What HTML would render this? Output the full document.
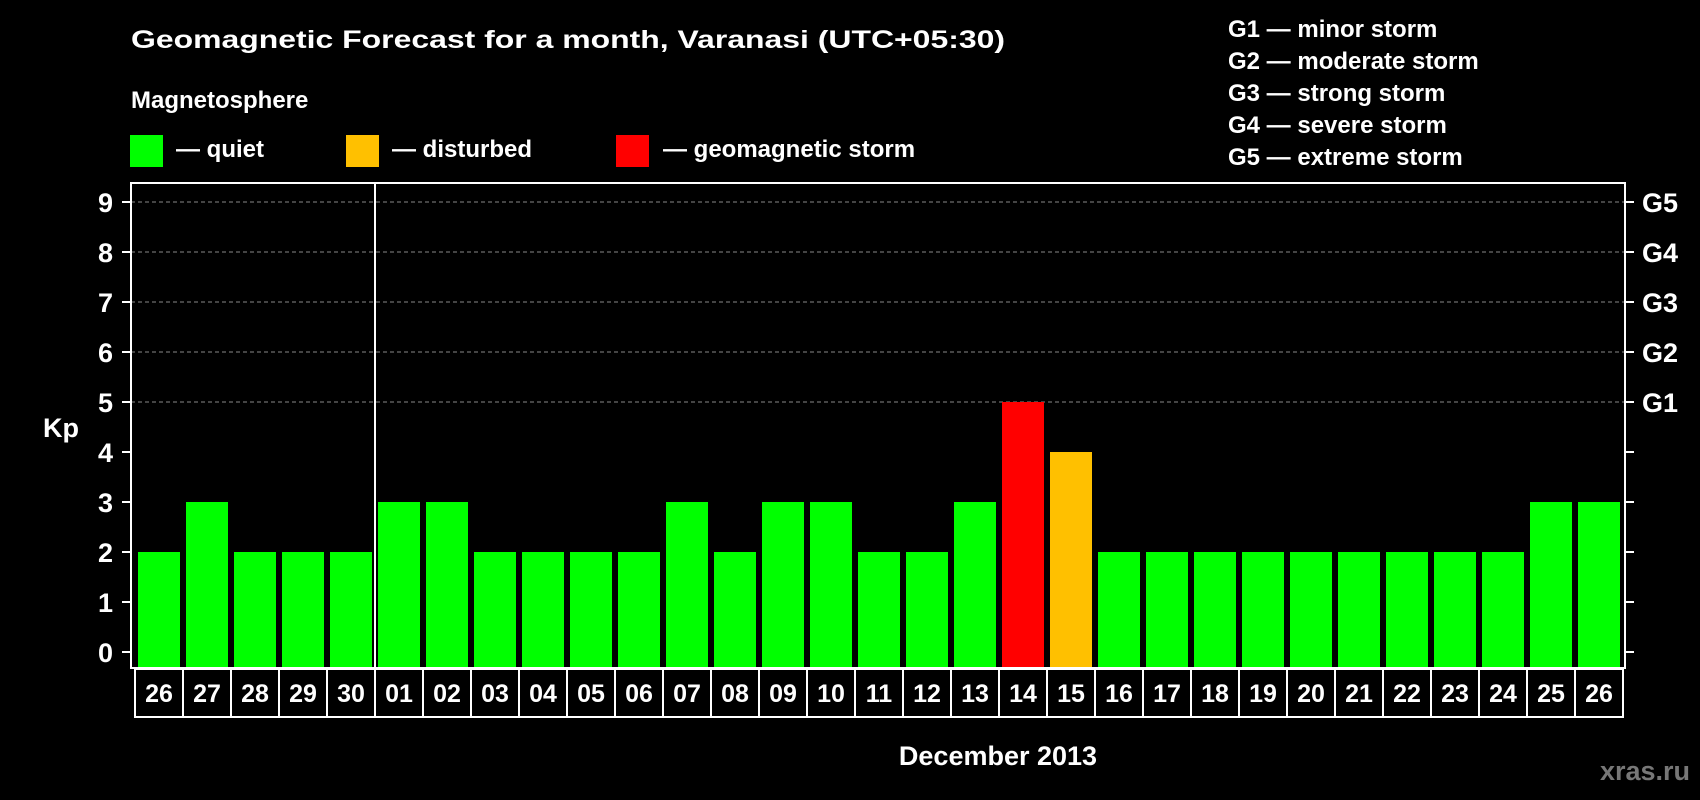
<!DOCTYPE html>
<html><head><meta charset="utf-8"><style>
html,body{margin:0;padding:0;background:#000;}
svg{display:block;font-family:"Liberation Sans",Arial,sans-serif;font-weight:bold;}
</style></head><body>
<svg id="chart" width="1700" height="800" viewBox="0 0 1700 800">
<rect x="0" y="0" width="1700" height="800" fill="#000"/>
<text x="131" y="48" fill="#fff" font-size="25" textLength="874" lengthAdjust="spacingAndGlyphs">Geomagnetic Forecast for a month, Varanasi (UTC+05:30)</text>
<text x="131" y="108" fill="#fff" font-size="24">Magnetosphere</text>
<g><rect x="130" y="135" width="33" height="32" fill="#00ff00"/><text x="176" y="157" fill="#fff" font-size="24">— quiet</text></g>
<g><rect x="346" y="135" width="33" height="32" fill="#ffc000"/><text x="392" y="157" fill="#fff" font-size="24">— disturbed</text></g>
<g><rect x="616" y="135" width="33" height="32" fill="#ff0000"/><text x="663" y="157" fill="#fff" font-size="24">— geomagnetic storm</text></g>
<g fill="#fff" font-size="24">
<text x="1228" y="37">G1 — minor storm</text>
<text x="1228" y="69">G2 — moderate storm</text>
<text x="1228" y="101">G3 — strong storm</text>
<text x="1228" y="133">G4 — severe storm</text>
<text x="1228" y="165">G5 — extreme storm</text>
</g>
<g id="grid"></g>
<g id="bars"></g>
<g id="axes"></g>
<text x="43" y="437" fill="#fff" font-size="27">Kp</text>
<text x="998" y="765" fill="#fff" font-size="27" text-anchor="middle">December 2013</text>
<text x="1690" y="780" fill="#777" font-size="27" text-anchor="end">xras.ru</text>
</svg>
<script>
const days = ["26","27","28","29","30","01","02","03","04","05","06","07","08","09","10","11","12","13","14","15","16","17","18","19","20","21","22","23","24","25","26"];
const kpValues = [2,3,2,2,2,3,3,2,2,2,2,3,2,3,3,2,2,3,5,4,2,2,2,2,2,2,2,2,2,3,3];
const yTicks = [0,1,2,3,4,5,6,7,8,9];
const gLabels = ["G1","G2","G3","G4","G5"];
const gLevels = [5,6,7,8,9];
const monthStartIndex = 5;

const NS = "http://www.w3.org/2000/svg";
const L = 131, R = 1625, T = 183, B = 668, x0 = 138, pitch = 48, bw = 42;
function yS(v){ return 652 - v*50; }
function xS(i){ return x0 + i*pitch; }
function mk(tag, attrs, parent){ const e = document.createElementNS(NS, tag); for (const k in attrs) e.setAttribute(k, attrs[k]); parent.appendChild(e); return e; }
function colorFor(v){ return v >= 5 ? "#ff0000" : (v >= 4 ? "#ffc000" : "#00ff00"); }

const grid = document.getElementById("grid");
const bars = document.getElementById("bars");
const axes = document.getElementById("axes");

gLevels.forEach(function(v){
  const ln = mk("line", {x1:L, x2:R, y1:yS(v), y2:yS(v), stroke:"#888", "stroke-width":1, "stroke-dasharray":"4,3"}, grid);
  
  
});

kpValues.forEach(function(v, i){
  const r = mk("rect", {x:xS(i), y:yS(v), width:bw, height:B - yS(v), fill:colorFor(v)}, bars);
  
  
});

const frame = mk("rect", {x:L, y:T, width:R-L, height:B-T, fill:"none", stroke:"#fff", "stroke-width":2}, axes);


const sep = mk("line", {x1:xS(monthStartIndex)-3, x2:xS(monthStartIndex)-3, y1:T, y2:717, stroke:"#fff", "stroke-width":2}, axes);



yTicks.forEach(function(v){
  const t = mk("line", {x1:122, x2:L, y1:yS(v), y2:yS(v), stroke:"#fff", "stroke-width":2}, axes);
  
  
  const t2 = mk("line", {x1:R, x2:1634, y1:yS(v), y2:yS(v), stroke:"#fff", "stroke-width":2}, axes);
  
  
  const lb = mk("text", {x:113, y:yS(v)+10, fill:"#fff", "font-size":27, "text-anchor":"end"}, axes);
  lb.textContent = String(v);
  
  
});

gLabels.forEach(function(g, i){
  const lb = mk("text", {x:1642, y:yS(gLevels[i])+10, fill:"#fff", "font-size":27}, axes);
  lb.textContent = g;
  
  
});

days.forEach(function(d, i){
  const cx = xS(i) - 3;
  const c = mk("rect", {x:cx, y:B+1, width:pitch, height:48, fill:"none", stroke:"#fff", "stroke-width":2}, axes);
  
  
  const t = mk("text", {x:cx + pitch/2, y:B+34, fill:"#fff", "font-size":25, "text-anchor":"middle"}, axes);
  t.textContent = d;
  
  
});
</script>
</body></html>
